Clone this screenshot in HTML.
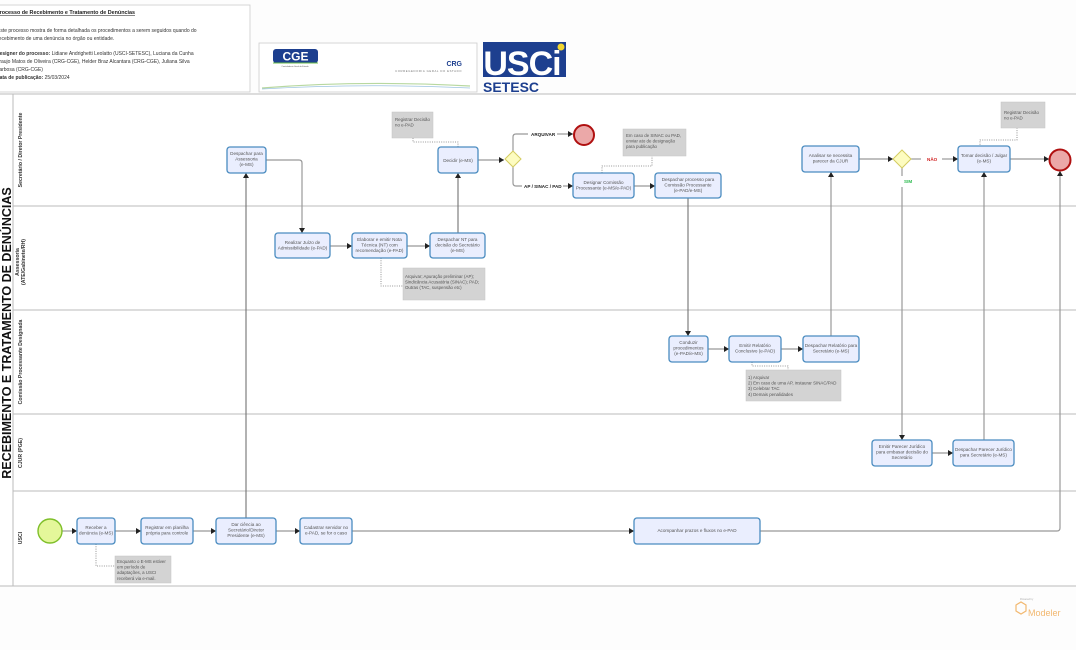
<!DOCTYPE html>
<html><head><meta charset="utf-8"><style>
html,body{margin:0;padding:0;background:#fdfdfd;}
svg{display:block;font-family:"Liberation Sans",sans-serif;}
.t{fill:#fff;stroke:none}
.task{fill:#eaeefe;stroke:#4a8cc0;stroke-width:1.3}
.tx{font-size:4.6px;fill:#555;text-anchor:middle}
.note{fill:#d3d3d3;stroke:#c4c4c4;stroke-width:0.5}
.nt{font-size:4.4px;fill:#555}
.ln{stroke:#999;stroke-width:1.2;fill:none}
.lnd{stroke:#666;stroke-width:1;fill:none}
.dot{stroke:#777;stroke-width:0.8;stroke-dasharray:1 1.3;fill:none}
.lane{stroke:#bbb;stroke-width:1;}
.lab{font-size:5.2px;font-weight:bold;fill:#333;text-anchor:middle}
</style></head><body>
<svg width="1076" height="650" viewBox="0 0 1076 650" xmlns="http://www.w3.org/2000/svg">
<defs>
<marker id="a" markerWidth="6" markerHeight="6" refX="5" refY="3" orient="auto" markerUnits="userSpaceOnUse"><path d="M0,0 L5,3 L0,6z" fill="#222"/></marker>
</defs>
<rect width="1076" height="650" fill="#fdfdfd"/>
<!-- header box -->
<rect x="-2" y="5" width="252" height="87" fill="#fff" stroke="#ccc" stroke-width="0.8"/>
<text x="-4" y="14" font-size="5.4" font-weight="bold" fill="#222" text-decoration="underline">Processo de Recebimento e Tratamento de Denúncias</text>
<text font-size="5" fill="#333"><tspan x="-3" y="32">Este processo mostra de forma detalhada os procedimentos a serem seguidos quando do</tspan><tspan x="-3" y="40">recebimento de uma denúncia no órgão ou entidade.</tspan>
<tspan x="-4" y="55"><tspan font-weight="bold">Designer do processo:</tspan> Lidiane Andrighetti Leolatto (USCI-SETESC), Luciana da Cunha</tspan>
<tspan x="-4" y="63">Araujo Matos de Oliveira (CRG-CGE), Helder Braz Alcantara (CRG-CGE), Juliana Silva</tspan>
<tspan x="-4" y="71">Barbosa (CRG-CGE)</tspan>
<tspan x="-4" y="79"><tspan font-weight="bold">Data de publicação:</tspan> 25/03/2024</tspan></text>
<!-- logos -->
<rect x="259" y="43" width="218" height="49" fill="#fff" stroke="#ccc" stroke-width="0.8"/>
<rect x="273" y="49" width="45" height="14" rx="3" fill="#1d3f8f"/>
<text x="295.5" y="60.5" font-size="12" font-weight="bold" fill="#fff" text-anchor="middle">CGE</text>
<path d="M273,63 h45" stroke="#6cbf4a" stroke-width="1"/>
<text x="295" y="67" font-size="2" fill="#555" text-anchor="middle">Controladoria Geral do Estado</text>
<text x="462" y="66" font-size="7" font-weight="bold" fill="#1d3f8f" text-anchor="end">CRG</text>
<text x="462" y="72" font-size="2.8" fill="#777" text-anchor="end" letter-spacing="0.6">CORREGEDORIA GERAL DO ESTADO</text>
<path d="M262,88 Q360,80 470,86" stroke="#b8d8a0" stroke-width="1.2" fill="none"/>
<path d="M262,89 Q360,83 470,88" stroke="#9cc3e0" stroke-width="0.8" fill="none"/>
<rect x="483" y="42" width="83" height="35" fill="#1d3f8f"/>
<text x="522" y="75" font-size="34" font-weight="bold" fill="#fff" text-anchor="middle" letter-spacing="-1">USCi</text>
<circle cx="561" cy="47" r="3.5" fill="#f2d630"/>
<text x="483" y="92" font-size="14" font-weight="bold" fill="#1d3f8f">SETESC</text>
<!-- pool -->
<rect x="0" y="94" width="1076" height="492" fill="#fff"/>
<line x1="0" y1="94" x2="1076" y2="94" class="lane" stroke="#aaa"/>
<line x1="0" y1="586" x2="1076" y2="586" class="lane" stroke="#aaa"/>
<line x1="13" y1="94" x2="13" y2="586" class="lane" stroke="#aaa"/>
<line x1="13" y1="206" x2="1076" y2="206" class="lane"/>
<line x1="13" y1="310" x2="1076" y2="310" class="lane"/>
<line x1="13" y1="414" x2="1076" y2="414" class="lane"/>
<line x1="13" y1="491" x2="1076" y2="491" class="lane"/>
<text transform="translate(11,333) rotate(-90)" font-size="12.5" font-weight="bold" fill="#111" text-anchor="middle">RECEBIMENTO E TRATAMENTO DE DENÚNCIAS</text>
<text transform="translate(22,150) rotate(-90)" class="lab">Secretário / Diretor Presidente</text>
<text transform="translate(19,262) rotate(-90)" class="lab"><tspan x="0">Assessoria</tspan><tspan x="0" dy="6">(ATE/Gabinete/RH)</tspan></text>
<text transform="translate(22,362) rotate(-90)" class="lab">Comissão Processante Designada</text>
<text transform="translate(22,453) rotate(-90)" class="lab">CJUR (PGE)</text>
<text transform="translate(22,538) rotate(-90)" class="lab">USCI</text>

<!-- connectors -->
<g class="ln">
<path d="M62,531 H77" marker-end="url(#a)"/>
<path d="M115,531 H141" marker-end="url(#a)"/>
<path d="M193,531 H216" marker-end="url(#a)"/>
<path d="M276,531 H300" marker-end="url(#a)"/>
<path d="M352,531 H634" marker-end="url(#a)"/>
<path d="M760,531 H1057 Q1060,531 1060,528 V171" marker-end="url(#a)"/>
<path d="M246,518 V173" class="lnd" marker-end="url(#a)"/>
<path d="M266,160 H299 Q302,160 302,163 V233" marker-end="url(#a)"/>
<path d="M330,246 H352" marker-end="url(#a)"/>
<path d="M407,246 H430" marker-end="url(#a)"/>
<path d="M458,233 V173" class="lnd" marker-end="url(#a)"/>
<path d="M478,160 H504" marker-end="url(#a)"/>
<path d="M513,151 V137 Q513,134 516,134 H528"/>
<path d="M557,134 H573" marker-end="url(#a)"/>
<path d="M513,167 V183 Q513,186 516,186 H522"/>
<path d="M563,186 H573" marker-end="url(#a)"/>
<path d="M634,186 H655" marker-end="url(#a)"/>
<path d="M688,198 V336" class="lnd" marker-end="url(#a)"/>
<path d="M708,349 H729" marker-end="url(#a)"/>
<path d="M781,349 H803" marker-end="url(#a)"/>
<path d="M831,336 V172" marker-end="url(#a)"/>
<path d="M859,159 H893" marker-end="url(#a)"/>
<path d="M911,159 H921"/>
<path d="M942,159 H958" marker-end="url(#a)"/>
<path d="M902,168 V176"/>
<path d="M902,187 V440" marker-end="url(#a)"/>
<path d="M932,453 H953" marker-end="url(#a)"/>
<path d="M984,440 V172" marker-end="url(#a)"/>
<path d="M1010,159 H1049" marker-end="url(#a)"/>
</g>
<!-- dotted associations -->
<g class="dot">
<path d="M96,544 V566 H115"/>
<path d="M381,258 V286 H403"/>
<path d="M413,138 V142 H458 V147"/>
<path d="M602,173 V166 H652 V156"/>
<path d="M752,362 V366 H788 V370"/>
<path d="M980,147 V140 H1017 V128"/>
</g>
<!-- labels -->
<text x="531" y="136" font-size="4.6" font-weight="bold" fill="#222">ARQUIVAR</text>
<text x="524" y="188" font-size="4.6" font-weight="bold" fill="#222">AP / SINAC / PAD</text>
<text x="927" y="161" font-size="4.6" font-weight="bold" fill="#d02020">NÃO</text>
<text x="904" y="183" font-size="4.6" font-weight="bold" fill="#2dbb50">SIM</text>
<!-- events -->
<circle cx="50" cy="531" r="12" fill="#e4f79a" stroke="#7fbf2a" stroke-width="1.4"/>
<circle cx="584" cy="135" r="10" fill="#eba8a8" stroke="#b01010" stroke-width="2"/>
<circle cx="1060" cy="160" r="10.5" fill="#eba8a8" stroke="#b01010" stroke-width="2"/>
<!-- gateways -->
<path d="M513,151 L521,159 L513,167 L505,159z" fill="#fdfcc0" stroke="#d4cc60" stroke-width="1"/>
<path d="M902,150 L911,159 L902,168 L893,159z" fill="#fdfcc0" stroke="#d4cc60" stroke-width="1"/>
<!-- tasks -->
<g>
<rect class="task" x="227" y="147" width="39" height="26" rx="3"/><text class="tx" y="155"><tspan x="246.5">Despachar para</tspan><tspan x="246.5" dy="5.6">Assessoria</tspan><tspan x="246.5" dy="5.6">(e-MS)</tspan></text>
<rect class="task" x="438" y="147" width="40" height="26" rx="3"/><text class="tx" x="458" y="162">Decidir (e-MS)</text>
<rect class="task" x="573" y="173" width="61" height="25" rx="3"/><text class="tx" y="184"><tspan x="603.5">Designar Comissão</tspan><tspan x="603.5" dy="5.6">Processante (e-MS/e-PAD)</tspan></text>
<rect class="task" x="655" y="173" width="66" height="25" rx="3"/><text class="tx" y="181"><tspan x="688">Despachar processo para</tspan><tspan x="688" dy="5.6">Comissão Processante</tspan><tspan x="688" dy="5.6">(e-PAD/e-MS)</tspan></text>
<rect class="task" x="802" y="146" width="57" height="26" rx="3"/><text class="tx" y="157"><tspan x="830.5">Analisar se necessita</tspan><tspan x="830.5" dy="5.6">parecer da CJUR</tspan></text>
<rect class="task" x="958" y="146" width="52" height="26" rx="3"/><text class="tx" y="157"><tspan x="984">Tomar decisão / Julgar</tspan><tspan x="984" dy="5.6">(e-MS)</tspan></text>
<rect class="task" x="275" y="233" width="55" height="25" rx="3"/><text class="tx" y="244"><tspan x="302.5">Realizar Juízo de</tspan><tspan x="302.5" dy="5.6">Admissibilidade (e-PAD)</tspan></text>
<rect class="task" x="352" y="233" width="55" height="25" rx="3"/><text class="tx" y="241"><tspan x="379.5">Elaborar e emitir Nota</tspan><tspan x="379.5" dy="5.6">Técnica (NT) com</tspan><tspan x="379.5" dy="5.6">recomendação (e-PAD)</tspan></text>
<rect class="task" x="430" y="233" width="55" height="25" rx="3"/><text class="tx" y="241"><tspan x="457.5">Despachar NT para</tspan><tspan x="457.5" dy="5.6">decisão do Secretário</tspan><tspan x="457.5" dy="5.6">(e-MS)</tspan></text>
<rect class="task" x="669" y="336" width="39" height="26" rx="3"/><text class="tx" y="344"><tspan x="688.5">Conduzir</tspan><tspan x="688.5" dy="5.6">procedimentos</tspan><tspan x="688.5" dy="5.6">(e-PAD/e-MS)</tspan></text>
<rect class="task" x="729" y="336" width="52" height="26" rx="3"/><text class="tx" y="347"><tspan x="755">Emitir Relatório</tspan><tspan x="755" dy="5.6">Conclusivo (e-PAD)</tspan></text>
<rect class="task" x="803" y="336" width="56" height="26" rx="3"/><text class="tx" y="347"><tspan x="831">Despachar Relatório para</tspan><tspan x="831" dy="5.6">Secretário (e-MS)</tspan></text>
<rect class="task" x="872" y="440" width="60" height="26" rx="3"/><text class="tx" y="448"><tspan x="902">Emitir Parecer Jurídico</tspan><tspan x="902" dy="5.6">para embasar decisão do</tspan><tspan x="902" dy="5.6">Secretário</tspan></text>
<rect class="task" x="953" y="440" width="61" height="26" rx="3"/><text class="tx" y="451"><tspan x="983.5">Despachar Parecer Jurídico</tspan><tspan x="983.5" dy="5.6">para Secretário (e-MS)</tspan></text>
<rect class="task" x="77" y="518" width="38" height="26" rx="3"/><text class="tx" y="529"><tspan x="96">Receber a</tspan><tspan x="96" dy="5.6">denúncia (e-MS)</tspan></text>
<rect class="task" x="141" y="518" width="52" height="26" rx="3"/><text class="tx" y="529"><tspan x="167">Registrar em planilha</tspan><tspan x="167" dy="5.6">própria para controle</tspan></text>
<rect class="task" x="216" y="518" width="60" height="26" rx="3"/><text class="tx" y="526"><tspan x="246">Dar ciência ao</tspan><tspan x="246" dy="5.6">Secretário/Diretor</tspan><tspan x="246" dy="5.6">Presidente (e-MS)</tspan></text>
<rect class="task" x="300" y="518" width="52" height="26" rx="3"/><text class="tx" y="529"><tspan x="326">Cadastrar servidor no</tspan><tspan x="326" dy="5.6">e-PAD, se for o caso</tspan></text>
<rect class="task" x="634" y="518" width="126" height="26" rx="3"/><text class="tx" x="697" y="532">Acompanhar prazos e fluxos no e-PAD</text>
</g>
<!-- notes -->
<rect class="note" x="392" y="112" width="41" height="26"/><text class="nt" y="121"><tspan x="395">Registrar Decisão</tspan><tspan x="395" dy="5.6">no e-PAD</tspan></text>
<rect class="note" x="403" y="268" width="82" height="32"/><text class="nt" y="278"><tspan x="405">Arquivar; Apuração preliminar (AP);</tspan><tspan x="405" dy="5.6">Sindicância Acusatória (SINAC); PAD;</tspan><tspan x="405" dy="5.6">Outras (TAC, suspensão etc)</tspan></text>
<rect class="note" x="623" y="129" width="63" height="27"/><text class="nt" y="137"><tspan x="626">Em caso de SINAC ou PAD,</tspan><tspan x="626" dy="5.6">enviar ato de designação</tspan><tspan x="626" dy="5.6">para publicação</tspan></text>
<rect class="note" x="1001" y="102" width="44" height="26"/><text class="nt" y="114"><tspan x="1004">Registrar Decisão</tspan><tspan x="1004" dy="5.6">no e-PAD</tspan></text>
<rect class="note" x="746" y="370" width="95" height="31"/><text class="nt" y="379"><tspan x="748">1) Arquivar</tspan><tspan x="748" dy="5.6">2) Em caso de uma AP, instaurar SINAC/PAD</tspan><tspan x="748" dy="5.6">3) Celebrar TAC</tspan><tspan x="748" dy="5.6">4) Demais penalidades</tspan></text>
<rect class="note" x="115" y="556" width="56" height="27"/><text class="nt" y="563"><tspan x="117">Enquanto o E-MS estiver</tspan><tspan x="117" dy="5.6">em período de</tspan><tspan x="117" dy="5.6">adaptações, a USCI</tspan><tspan x="117" dy="5.6">receberá via e-mail.</tspan></text>
<!-- footer -->
<text x="1020" y="600" font-size="2.5" fill="#aaa">Powered by</text>
<path d="M1016,605 l5,-3 l5,3 v6 l-5,3 l-5,-3z" fill="none" stroke="#f2b870" stroke-width="1.2"/>
<text x="1028" y="616" font-size="9" fill="#f2b870">Modeler</text>
</svg>
</body></html>
